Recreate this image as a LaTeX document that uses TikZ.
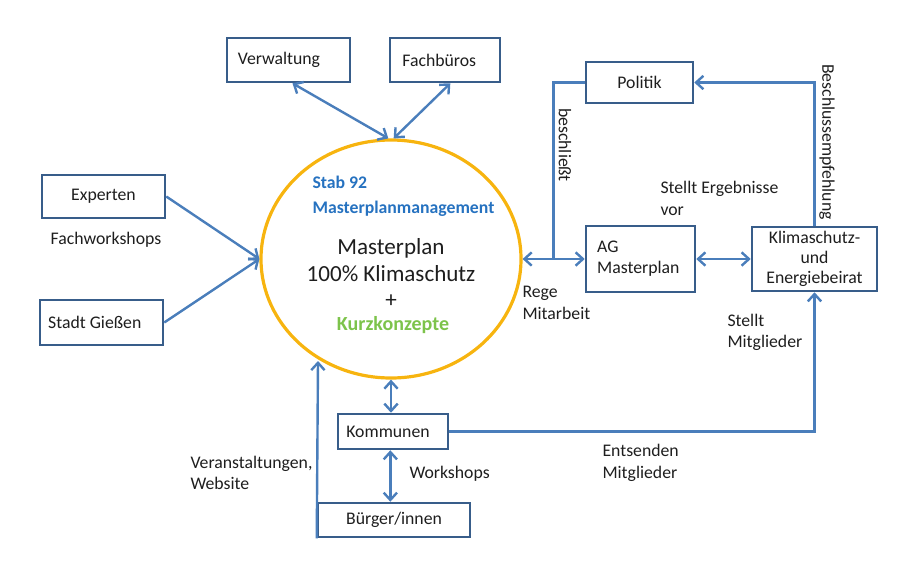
\documentclass[tikz,border=0pt]{standalone}
\usepackage{fontspec}
\setmainfont{Carlito}
\usepackage{tikz}
\usetikzlibrary{arrows.meta,shapes.geometric,calc}
\definecolor{boxblue}{RGB}{56,93,138}
\definecolor{lineblue}{RGB}{74,126,187}
\definecolor{ringgold}{RGB}{247,180,15}
\definecolor{stabblue}{RGB}{38,114,192}
\definecolor{kurzgreen}{RGB}{125,195,75}
\definecolor{textgray}{RGB}{30,30,30}
\tikzset{every picture/.style={line width=0.75pt},
  box/.style={draw=boxblue, line width=1.9pt, fill=white, inner sep=0pt,
    text=textgray, font=\fontsize{13.3}{16}\selectfont},
  ring/.style={ellipse, draw=ringgold, line width=2.4pt, inner sep=0pt,
    minimum width=195pt, minimum height=178.5pt},
  lbl/.style={inner sep=0pt, align=left, text=textgray, font=\fontsize{13.3}{16}\selectfont},
  conn/.style={draw=lineblue, line width=1.8pt},
  >={Straight Barb[length=5.5pt,width=10pt]}
}
\begin{document}
\begin{tikzpicture}[x=0.75pt,y=0.75pt,yscale=-1,xscale=1]
\useasboundingbox (0,0) rectangle (920,565);

%Shape: Ellipse
\node[ring] (mp) at (391,259) {};
%Shape: Rectangle
\node[box, minimum width=92.25pt, minimum height=33pt, inner xsep=8pt, text width=76pt, align=flush left] (verw) at (288.5,60) {Verwaltung};
%Shape: Rectangle
\node[box, minimum width=82.5pt, minimum height=33pt, inner xsep=9pt, text width=64pt, align=flush left] (fach) at (445,60) {Fachbüros};
%Shape: Rectangle
\node[box, minimum width=92.25pt, minimum height=32.25pt] (exp) at (103.5,196.5) {Experten};
%Shape: Rectangle
\node[box, minimum width=92.25pt, minimum height=33.75pt, inner xsep=6pt, text width=80pt, align=flush left] (stadt) at (101.5,322.5) {Stadt Gießen};
%Shape: Rectangle
\node[box, minimum width=80.25pt, minimum height=30.75pt] (politik) at (639.5,82.5) {Politik};
%Shape: Rectangle
\node[box, minimum width=81.75pt, minimum height=49.5pt, inner xsep=8pt, text width=65pt, align=flush left] (ag) at (640.5,259) {AG\\Masterplan};
%Shape: Rectangle
\node[box, minimum width=93.75pt, minimum height=48pt, align=center, font=\fontsize{13.3}{15}\selectfont] (klima) at (814.5,259) {Klimaschutz-\\und\\Energiebeirat};
%Shape: Rectangle
\node[box, minimum width=82.5pt, minimum height=26.25pt, inner xsep=6pt, text width=70pt, align=flush left] (kommunen) at (393,431.5) {Kommunen};
%Shape: Rectangle
\node[box, minimum width=114pt, minimum height=25.5pt] (buerger) at (394,520) {Bürger/innen};

\coordinate (veran) at (318,361);
\coordinate (knick) at ($(mp.east)!0.5!(ag.west)$);

%Straight Lines
\draw[conn, <->] ([xshift=3pt]verw.south) -- ([xshift=-2pt]mp.north);
\draw[conn, <->] ([xshift=4pt]fach.south) -- ([xshift=2pt]mp.north);
%Straight Lines
\draw[conn, ->] (exp.east) -- (mp.west);
\draw[conn, ->] (stadt.east) -- (mp.west);
%Straight Lines
\draw[conn, <->] (mp.east) -- (ag.west);
\draw[conn] (politik.west) -| (knick);
\draw[conn, <->] (ag.east) -- (klima.west);
\draw[conn, ->] (klima.north) |- (politik.east);
%Straight Lines
\draw[conn, ->] (kommunen.east) -| (klima.south);
\draw[conn, <->] (mp.south) -- (mp.south |- kommunen.north);
\draw[conn, <->] ([xshift=-2pt]kommunen.south) -- ([xshift=-2pt]kommunen.south |- buerger.north);
\draw[conn, ->] (buerger.south west) -- (veran);

% Text Node
\node[lbl, anchor=west, text=stabblue, font=\fontsize{13.3}{18.5}\selectfont\bfseries] (stab) at (312,196) {Stab 92\\Masterplanmanagement};
% Text Node
\node[lbl, align=center, font=\fontsize{17.3}{19.8}\selectfont] (mptext) at (391,273) {Masterplan\\100\% Klimaschutz\\+};
% Text Node
\node[lbl, text=kurzgreen, font=\fontsize{15}{18}\selectfont\bfseries] (kurz) at (393,325) {Kurzkonzepte};
% Text Node
\node[lbl] (fachws) at (106,240) {Fachworkshops};
% Text Node
\node[lbl, rotate=-90] (beschl) at (565,145) {beschließt};
% Text Node
\node[lbl, rotate=-90] (bempf) at (827,142) {Beschlussempfehlung};
% Text Node
\node[lbl, anchor=west, font=\fontsize{13.3}{17}\selectfont] (ergeb) at (660,198.5) {Stellt Ergebnisse\\vor};
% Text Node
\node[lbl, anchor=west] (rege) at (522,303) {Rege\\Mitarbeit};
% Text Node
\node[lbl, anchor=west] (stellt) at (727,332.5) {Stellt\\Mitglieder};
% Text Node
\node[lbl, anchor=west] (ws) at (409,474) {Workshops};
% Text Node
\node[lbl, anchor=west] (entsenden) at (602,463) {Entsenden\\Mitglieder};
% Text Node
\node[lbl, anchor=west] (veranst) at (190,473) {Veranstaltungen,\\Website};

\end{tikzpicture}
\end{document}
